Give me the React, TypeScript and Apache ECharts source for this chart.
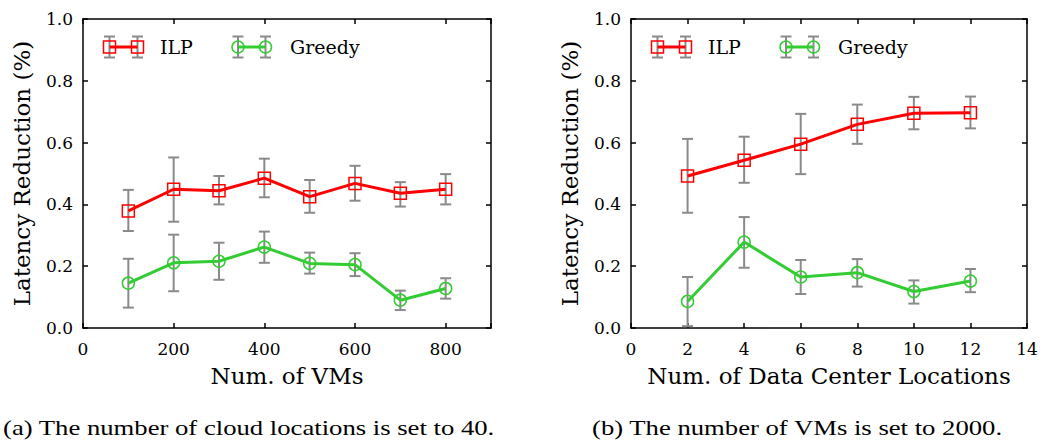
import React, { useEffect, useRef } from "react";
import * as echarts from "echarts";

const vmX = [100, 200, 300, 400, 500, 600, 700, 800];
const ilpVM = [0.379, 0.449, 0.444, 0.485, 0.425, 0.468, 0.436, 0.449];
const ilpVMLow = [0.314, 0.344, 0.4, 0.423, 0.373, 0.412, 0.393, 0.4];
const ilpVMHigh = [0.447, 0.552, 0.492, 0.548, 0.479, 0.525, 0.472, 0.498];
const greedyVM = [0.145, 0.211, 0.216, 0.262, 0.209, 0.205, 0.09, 0.128];
const greedyVMLow = [0.066, 0.119, 0.156, 0.211, 0.176, 0.168, 0.058, 0.095];
const greedyVMHigh = [0.224, 0.302, 0.276, 0.312, 0.244, 0.242, 0.121, 0.161];

const dcX = [2, 4, 6, 8, 10, 12];
const ilpDC = [0.492, 0.543, 0.595, 0.659, 0.695, 0.697];
const ilpDCLow = [0.373, 0.47, 0.498, 0.596, 0.643, 0.646];
const ilpDCHigh = [0.612, 0.619, 0.693, 0.723, 0.748, 0.749];
const greedyDC = [0.086, 0.278, 0.165, 0.179, 0.118, 0.152];
const greedyDCLow = [0.006, 0.195, 0.11, 0.134, 0.079, 0.116];
const greedyDCHigh = [0.165, 0.359, 0.22, 0.223, 0.154, 0.191];

const seriesNames = ["ILP", "Greedy"];
const yTicks = [0, 0.2, 0.4, 0.6, 0.8, 1.0];
const captions = [
  "(a) The number of cloud locations is set to 40.",
  "(b) The number of VMs is set to 2000.",
];
const xNames = ["Num. of VMs", "Num. of Data Center Locations"];
const yName = "Latency Reduction (%)";

const RED = "#ff0000";
const GREEN = "#33cc33";
const GRAY = "#8a8a8a";
const FONT = "DejaVu Serif";

const GRIDS = [
  { left: 83, top: 19, width: 408, height: 309 },
  { left: 631, top: 19, width: 396, height: 309 },
];

function errorRender(params: any, api: any) {
  const x = api.value(0);
  const lo = api.coord([x, api.value(1)]);
  const hi = api.coord([x, api.value(2)]);
  const hw = 5.5;
  const style = { stroke: GRAY, lineWidth: 2 };
  return {
    type: "group",
    children: [
      { type: "line", shape: { x1: lo[0], y1: lo[1], x2: hi[0], y2: hi[1] }, style },
      { type: "line", shape: { x1: lo[0] - hw, y1: lo[1], x2: lo[0] + hw, y2: lo[1] }, style },
      { type: "line", shape: { x1: hi[0] - hw, y1: hi[1], x2: hi[0] + hw, y2: hi[1] }, style },
    ],
  };
}

function legendGraphics(L: number) {
  const yc = 47;
  const items: any[] = [];
  const defs = [
    { x1: L + 26.5, x2: L + 54.5, tx: L + 77, color: RED, sym: "rect", name: seriesNames[0] },
    { x1: L + 155, x2: L + 182.5, tx: L + 207, color: GREEN, sym: "circle", name: seriesNames[1] },
  ];
  const gs = { stroke: GRAY, lineWidth: 2 };
  defs.forEach((d) => {
    [d.x1, d.x2].forEach((x) => {
      items.push({ type: "line", shape: { x1: x, y1: yc - 10.5, x2: x, y2: yc + 10.5 }, style: gs, z: 10 });
      items.push({ type: "line", shape: { x1: x - 5.5, y1: yc - 10.5, x2: x + 5.5, y2: yc - 10.5 }, style: gs, z: 10 });
      items.push({ type: "line", shape: { x1: x - 5.5, y1: yc + 10.5, x2: x + 5.5, y2: yc + 10.5 }, style: gs, z: 10 });
    });
    items.push({ type: "line", shape: { x1: d.x1, y1: yc, x2: d.x2, y2: yc }, style: { stroke: d.color, lineWidth: 3 }, z: 11 });
    [d.x1, d.x2].forEach((x) => {
      if (d.sym === "rect") {
        items.push({ type: "rect", shape: { x: x - 6, y: yc - 6, width: 12, height: 12 }, style: { fill: "none", stroke: d.color, lineWidth: 1.5 }, z: 12 });
      } else {
        items.push({ type: "circle", shape: { cx: x, cy: yc, r: 6 }, style: { fill: "none", stroke: d.color, lineWidth: 1.5 }, z: 12 });
      }
    });
    items.push({
      type: "text",
      x: d.tx,
      y: yc,
      style: { text: d.name, fontFamily: FONT, fontSize: 19, fill: "#000", align: "left", verticalAlign: "middle" },
      z: 12,
    });
  });
  return items;
}

export default function App() {
  const ref = useRef<HTMLDivElement>(null);
  useEffect(() => {
    if (!ref.current) return;
    const chart = echarts.init(ref.current, null, { renderer: "svg" });

    const axisLine = { show: true, onZero: false, lineStyle: { color: "#000", width: 1.5 } };
    const tick = { show: true, inside: true, length: 5, lineStyle: { color: "#000", width: 1.5 } };
    const lbl = { fontFamily: FONT, fontSize: 17, color: "#000" };

    const xAxes: any[] = [];
    const yAxes: any[] = [];
    const specs = [
      { min: 0, max: 900, interval: 200, fmt: (v: number) => (v % 200 === 0 ? String(v) : "") },
      { min: 0, max: 14, interval: 2, fmt: (v: number) => String(v) },
    ];
    specs.forEach((s, i) => {
      xAxes.push({
        type: "value", gridIndex: i, position: "bottom", min: s.min, max: s.max, interval: s.interval,
        axisLine, axisTick: tick, splitLine: { show: false },
        axisLabel: { ...lbl, margin: 12, formatter: s.fmt },
        name: xNames[i], nameLocation: "middle", nameGap: 36,
        nameTextStyle: { fontFamily: FONT, fontSize: 23, color: "#000" },
      });
      xAxes.push({
        type: "value", gridIndex: i, position: "top", min: s.min, max: s.max, interval: s.interval,
        axisLine, axisTick: tick, splitLine: { show: false }, axisLabel: { show: false },
      });
      yAxes.push({
        type: "value", gridIndex: i, position: "left", min: 0, max: 1, interval: 0.2,
        axisLine, axisTick: tick, splitLine: { show: false },
        axisLabel: { ...lbl, margin: 10, formatter: (v: number) => (yTicks.includes(Math.round(v * 10) / 10) ? v.toFixed(1) : "") },
        name: yName, nameLocation: "middle", nameGap: 50, nameRotate: 90,
        nameTextStyle: { fontFamily: FONT, fontSize: 23, color: "#000" },
      });
      yAxes.push({
        type: "value", gridIndex: i, position: "right", min: 0, max: 1, interval: 0.2,
        axisLine, axisTick: tick, splitLine: { show: false }, axisLabel: { show: false },
      });
    });

    const panels = [
      { x: vmX, ilp: ilpVM, ilpLo: ilpVMLow, ilpHi: ilpVMHigh, gr: greedyVM, grLo: greedyVMLow, grHi: greedyVMHigh },
      { x: dcX, ilp: ilpDC, ilpLo: ilpDCLow, ilpHi: ilpDCHigh, gr: greedyDC, grLo: greedyDCLow, grHi: greedyDCHigh },
    ];
    const series: any[] = [];
    panels.forEach((p, i) => {
      const xi = i * 2;
      const yi = i * 2;
      series.push({
        type: "custom", xAxisIndex: xi, yAxisIndex: yi, renderItem: errorRender, z: 2,
        data: p.x.map((x, k) => [x, p.ilpLo[k], p.ilpHi[k]]),
      });
      series.push({
        type: "custom", xAxisIndex: xi, yAxisIndex: yi, renderItem: errorRender, z: 2,
        data: p.x.map((x, k) => [x, p.grLo[k], p.grHi[k]]),
      });
      series.push({
        name: seriesNames[0], type: "line", xAxisIndex: xi, yAxisIndex: yi, z: 3,
        data: p.x.map((x, k) => [x, p.ilp[k]]),
        symbol: "rect", symbolSize: 12, showAllSymbol: true,
        lineStyle: { color: RED, width: 3 },
        itemStyle: { color: "rgba(0,0,0,0)", borderColor: RED, borderWidth: 1.5 },
      });
      series.push({
        name: seriesNames[1], type: "line", xAxisIndex: xi, yAxisIndex: yi, z: 3,
        data: p.x.map((x, k) => [x, p.gr[k]]),
        symbol: "circle", symbolSize: 12, showAllSymbol: true,
        lineStyle: { color: GREEN, width: 3 },
        itemStyle: { color: "rgba(0,0,0,0)", borderColor: GREEN, borderWidth: 1.5 },
      });
    });

    const capStyle = { fontFamily: "Liberation Serif", fontSize: 21, fill: "#000", align: "left", verticalAlign: "middle" };
    const graphic: any[] = [
      ...legendGraphics(GRIDS[0].left),
      ...legendGraphics(GRIDS[1].left),
      { type: "text", x: 3, y: 428, scaleX: 1.27, style: { ...capStyle, text: captions[0] } },
      { type: "text", x: 592, y: 428, scaleX: 1.27, style: { ...capStyle, text: captions[1] } },
    ];

    chart.setOption({
      animation: false,
      backgroundColor: "#fff",
      grid: GRIDS.map((g) => ({ ...g, containLabel: false })),
      xAxis: xAxes,
      yAxis: yAxes,
      series,
      graphic,
    });
    return () => chart.dispose();
  }, []);
  return <div ref={ref} style={{ position: "absolute", left: 0, top: 0, width: 1047, height: 442 }} />;
}
